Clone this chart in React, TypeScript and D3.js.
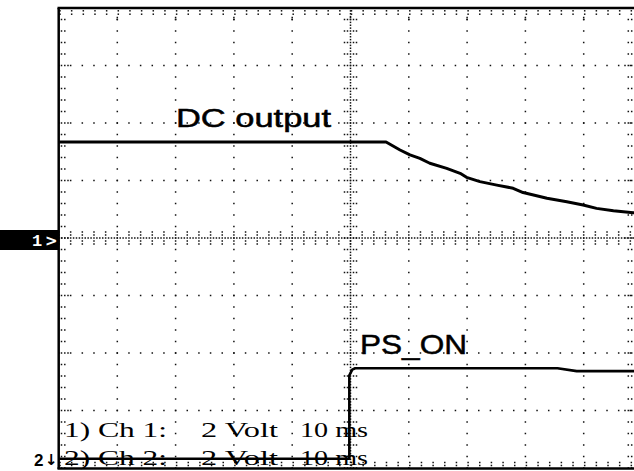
import React from 'react';
import * as d3 from 'd3';

const W = 634;
const H = 471;

// Oscilloscope settings: 10 ms/div horizontally (10 divs), 2 V/div vertically (8 divs)
const timeDomain: [number, number] = [-50, 50];
const voltDomain: [number, number] = [-8, 8];
const minorTime = 2; // 1/5 division
const minorVolt = 0.4; // 1/5 division

// Channel 1: DC output (volts vs ms)
const dcTime = [-50, 6.1, 8.5, 10.2, 11.9, 13.6, 16.5, 18.8, 19.9, 22.2, 25.1, 27.9, 29.6, 33.7, 37.1, 39.9, 42.2, 45.1, 48.5, 50];
const dcVolt = [3.34, 3.34, 3.06, 2.89, 2.77, 2.6, 2.42, 2.25, 2.11, 1.96, 1.84, 1.73, 1.58, 1.38, 1.26, 1.15, 1.03, 0.95, 0.88, 0.85];

// Channel 2: PS_ON (volts vs ms), ground offset near the bottom
const psTime = [-50, -0.2, -0.2, 0.3, 0.8, 35.5, 38.8, 50];
const psVolt = [0, 0, 2.9, 3.1, 3.15, 3.15, 3.05, 3.05];
const ch2Offset = -7.68;

const traceLabels = ['DC output', 'PS_ON'];
const infoChunks1 = ['1) Ch 1:', '2 Volt', '10 ms'];
const infoChunks2 = ['2) Ch 2:', '2 Volt', '10 ms'];

export default function App() {
  const x = d3.scaleLinear().domain(timeDomain).range([59, 642]);
  const y = d3.scaleLinear().domain(voltDomain).range([468, 8]);
  const x0 = x(0);
  const y0 = y(0);

  const tMinor = d3.range(timeDomain[0], timeDomain[1] + 0.001, minorTime);
  const vMinor = d3.range(voltDomain[0], voltDomain[1] + 0.001, minorVolt);
  const tMajor = d3.range(-40, 41, 10);
  const vMajor = d3.range(-6, 7, 2);

  const dots: [number, number][] = [];
  vMajor.filter(v => v !== 0).forEach(v => {
    tMinor.forEach(t => dots.push([x(t), y(v)]));
  });
  tMajor.filter(t => t !== 0).forEach(t => {
    vMinor.forEach(v => dots.push([x(t), y(v)]));
  });
  vMinor.forEach(v => {
    dots.push([61.5, y(v)]);
    dots.push([64.8, y(v)]);
    if (vMajor.includes(Math.round(v * 10) / 10)) dots.push([68, y(v)]);
  });
  vMinor.forEach(v => {
    dots.push([631.7, y(v)]);
    dots.push([628.3, y(v)]);
    if (vMajor.includes(Math.round(v * 10) / 10)) dots.push([625, y(v)]);
  });
  tMinor.forEach(t => {
    dots.push([x(t) + 1, 10.8]);
    dots.push([x(t) + 1, 14.2]);
    dots.push([x(t) + 1, 462.5]);
    dots.push([x(t) + 1, 465.5]);
  });
  tMajor.forEach(t => {
    dots.push([x(t), 17.5]);
    dots.push([x(t), 19.5]);
  });
  const ySub = d3.range(voltDomain[0], voltDomain[1] + 0.001, minorVolt / 4);
  ySub.forEach(v => dots.push([x0, y(v)]));
  vMinor.forEach(v => {
    [-6, -3, 3, 6].forEach(d => dots.push([x0 + d, y(v)]));
  });
  const xSub = d3.range(timeDomain[0], timeDomain[1] + 0.001, minorTime / 4);
  xSub.forEach(t => dots.push([x(t), y0]));
  tMinor.forEach(t => {
    [-6, -3, 3, 6].forEach(d => dots.push([x(t), y0 + d]));
  });

  const dcLine = d3.line<number>()
    .x((_, i) => x(dcTime[i]))
    .y(d => y(d))(dcVolt) || '';
  const psLine = d3.line<number>()
    .x((_, i) => x(psTime[i]))
    .y(d => y(d + ch2Offset))(psVolt) || '';

  const infoX = [64, 201, 300];
  const infoLen = [103, 77, 68];

  return (
    <svg width={W} height={H} style={{ position: 'absolute', left: 0, top: 0, background: '#fff' }}>
      <rect x={0} y={0} width={W} height={H} fill="#fff" />
      <g fill="#111">
        {dots.map((d, i) => (
          <rect key={i} x={d[0] - 0.75} y={d[1] - 0.75} width={1.5} height={1.5} />
        ))}
      </g>
      <g stroke="#000" strokeWidth={2.5} fill="none">
        <line x1={58.7} y1={8} x2={58.7} y2={469} />
        <line x1={57.5} y1={8} x2={W} y2={8} />
        <line x1={57.5} y1={468.5} x2={W} y2={468.5} />
      </g>
      {/* channel 1 marker */}
      <rect x={0} y={230} width={58} height={20} fill="#000" />
      <text x={32} y={246} fill="#fff" fontFamily="Liberation Mono, monospace" fontWeight="bold" fontSize={17}>1</text>
      <text x={45} y={246} fill="#fff" fontFamily="DejaVu Sans, sans-serif" fontWeight="bold" fontSize={15}>&gt;</text>
      {/* channel 2 marker */}
      <text x={34} y={466} fill="#000" fontFamily="Liberation Sans, sans-serif" fontWeight="bold" fontSize={17}>2</text>
      <text x={45} y={465} fill="#000" fontFamily="DejaVu Sans, sans-serif" fontWeight="bold" fontSize={15}>↓</text>

      {infoChunks1.map((s, i) => (
        <text key={'a' + i} x={infoX[i]} y={436.5} fontFamily="Liberation Serif, serif" fontSize={22}
          textLength={infoLen[i]} lengthAdjust="spacingAndGlyphs" fill="#000">{s}</text>
      ))}
      {infoChunks2.map((s, i) => (
        <text key={'b' + i} x={infoX[i]} y={465} fontFamily="Liberation Serif, serif" fontSize={22}
          textLength={infoLen[i]} lengthAdjust="spacingAndGlyphs" fill="#000">{s}</text>
      ))}

      <path d={dcLine} fill="none" stroke="#000" strokeWidth={3} strokeLinejoin="round" />
      <path d={psLine} fill="none" stroke="#000" strokeWidth={2.6} strokeLinejoin="round" />

      <text x={176} y={127} fontFamily="Liberation Sans, Arial, sans-serif" fontSize={26}
        textLength={155} lengthAdjust="spacingAndGlyphs" stroke="#000" strokeWidth={0.5} fill="#000">{traceLabels[0]}</text>
      <text x={360} y={354} fontFamily="Liberation Sans, Arial, sans-serif" fontSize={28}
        textLength={107} lengthAdjust="spacingAndGlyphs" stroke="#000" strokeWidth={0.5} fill="#000">{traceLabels[1]}</text>
    </svg>
  );
}
